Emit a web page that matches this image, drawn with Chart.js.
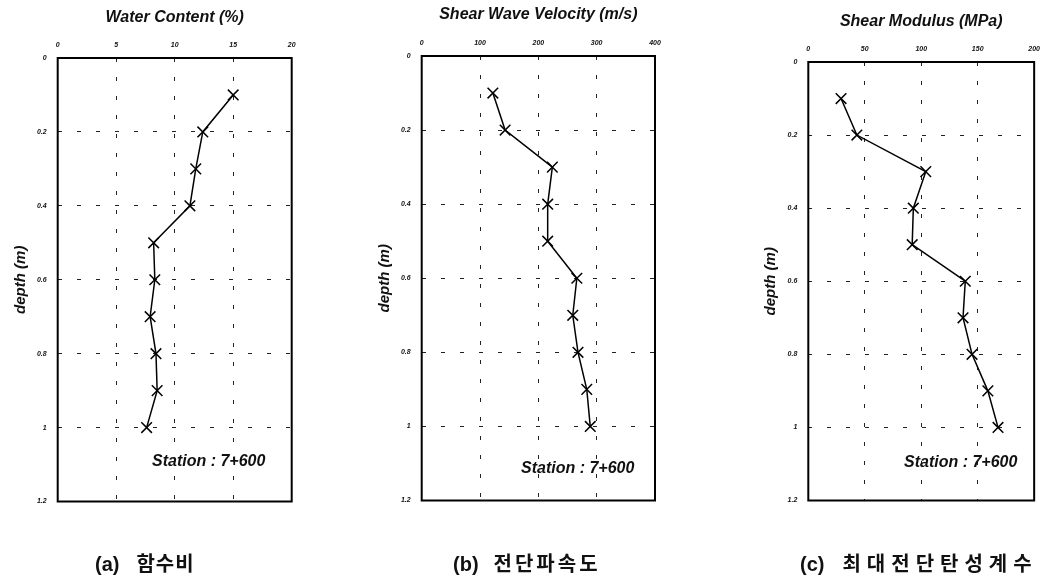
<!DOCTYPE html>
<html>
<head>
<meta charset="utf-8">
<script src="https://cdn.jsdelivr.net/npm/chart.js@4.4.0/dist/chart.umd.min.js"></script>
<style>
  body {
    margin: 0;
    background: #fff;
    width: 1049px;
    height: 578px;
    overflow: hidden;
    position: relative;
  }
  .panel {
    position: absolute;
    left: 0;
    top: 0;
    width: 1049px;
    height: 578px;
  }
  .station {
    position: absolute;
    font: italic bold 16px "Liberation Sans", Arial, sans-serif;
    line-height: 18px;
    white-space: nowrap;
    color: #111;
  }
  .caption {
    position: absolute;
    font: bold 20px "Liberation Sans", "Noto Sans CJK KR", sans-serif;
    line-height: 24px;
    white-space: nowrap;
    color: #111;
  }
  .caption .ko {
    font-family: "Noto Sans CJK KR", sans-serif;
  }
</style>
</head>
<body>
<div class="panel"><canvas id="chartA"></canvas></div>
<div class="panel"><canvas id="chartB"></canvas></div>
<div class="panel"><canvas id="chartC"></canvas></div>

<div class="station" style="left:152px; top:452px;">Station : 7+600</div>
<div class="station" style="left:521px; top:459px;">Station : 7+600</div>
<div class="station" style="left:904px; top:453px;">Station : 7+600</div>

<div class="caption" style="left:95px; top:551px;">(a)<span class="ko" style="margin-left:17px; letter-spacing:1px;">함수비</span></div>
<div class="caption" style="left:453px; top:551px;">(b)<span class="ko" style="margin-left:15px; letter-spacing:3px;">전단파속도</span></div>
<div class="caption" style="left:800px; top:551px;">(c)<span class="ko" style="margin-left:18px; letter-spacing:6px;">최대전단탄성계수</span></div>

<script>
// depth of each measurement (m)
const depths = [0.1, 0.2, 0.3, 0.4, 0.5, 0.6, 0.7, 0.8, 0.9, 1.0];

// values
const waterContent = [15.0, 12.4, 11.8, 11.3, 8.2, 8.3, 7.9, 8.4, 8.5, 7.6];
const shearVelocity = [122, 143, 224, 216, 216, 266, 259, 268, 283, 289];
const shearModulus = [29, 43, 104, 93, 92, 139, 137, 145, 159, 168];

const depthTicks = [0, 0.2, 0.4, 0.6, 0.8, 1, 1.2];
const titles = ["Water Content (%)", "Shear Wave Velocity (m/s)", "Shear Modulus (MPa)"];

const W = 1049, H = 578;
const yAxisWidth = 46;

// frame around the plot area
const framePlugin = {
  id: "frame",
  afterDraw(chart) {
    const { ctx, chartArea: a } = chart;
    ctx.save();
    ctx.strokeStyle = "#000";
    ctx.lineWidth = 2;
    ctx.strokeRect(a.left, a.top, a.right - a.left, a.bottom - a.top);
    ctx.restore();
  },
};

function makePanel(canvasId, title, values, xMax, xStep, box) {
  const points = depths.map((d, i) => ({ x: values[i], y: d }));
  const ctx = document.getElementById(canvasId).getContext("2d");
  return new Chart(ctx, {
    type: "scatter",
    data: {
      datasets: [
        {
          data: points,
          showLine: true,
          borderColor: "#000",
          borderWidth: 1.5,
          pointStyle: "crossRot",
          pointRadius: 7.5,
          pointBorderWidth: 1.5,
          pointBorderColor: "#000",
          pointBackgroundColor: "#000",
          tension: 0,
        },
      ],
    },
    options: {
      responsive: true,
      maintainAspectRatio: false,
      animation: false,
      devicePixelRatio: 1,
      layout: {
        padding: {
          left: box.left - yAxisWidth,
          top: box.scaleTop,
          right: W - box.right,
          bottom: H - box.bottom,
        },
      },
      plugins: {
        legend: { display: false },
        tooltip: { enabled: false },
      },
      scales: {
        x: {
          type: "linear",
          position: "top",
          min: 0,
          max: xMax,
          afterFit: (scale) => {
            scale.height = box.top - box.scaleTop;
          },
          ticks: {
            stepSize: xStep,
            padding: 9,
            color: "#111",
            font: { family: "Liberation Sans", size: 7, style: "italic", weight: "bold" },
          },
          grid: {
            drawTicks: false,
            color: "#222",
            lineWidth: 1,
          },
          border: { display: false, dash: [4, 15] },
          title: {
            display: true,
            text: title,
            color: "#111",
            padding: 0,
            font: { family: "Liberation Sans", size: 16, style: "italic", weight: "bold" },
          },
        },
        y: {
          type: "linear",
          position: "left",
          reverse: true,
          min: 0,
          max: 1.2,
          afterFit: (scale) => {
            scale.width = yAxisWidth;
          },
          afterBuildTicks: (scale) => {
            scale.ticks = depthTicks.map((v) => ({ value: v }));
          },
          ticks: {
            padding: 11,
            color: "#111",
            callback: (v) => String(Number(v.toFixed(1))),
            font: { family: "Liberation Sans", size: 7, style: "italic", weight: "bold" },
          },
          grid: {
            drawTicks: false,
            color: "#222",
            lineWidth: 1,
          },
          border: { display: false, dash: [4, 15] },
          title: {
            display: true,
            text: "depth (m)",
            color: "#111",
            padding: 0,
            font: { family: "Liberation Sans", size: 15, style: "italic", weight: "bold" },
          },
        },
      },
    },
    plugins: [framePlugin],
  });
}

makePanel("chartA", titles[0], waterContent, 20, 5,
  { left: 57.7, top: 58, right: 291.7, bottom: 501.5, scaleTop: 8.4 });
makePanel("chartB", titles[1], shearVelocity, 400, 100,
  { left: 421.7, top: 56, right: 655, bottom: 500.5, scaleTop: 4.9 });
makePanel("chartC", titles[2], shearModulus, 200, 50,
  { left: 808.3, top: 62, right: 1038.3, bottom: 500.5, scaleTop: 11.9 });
</script>
</body>
</html>
